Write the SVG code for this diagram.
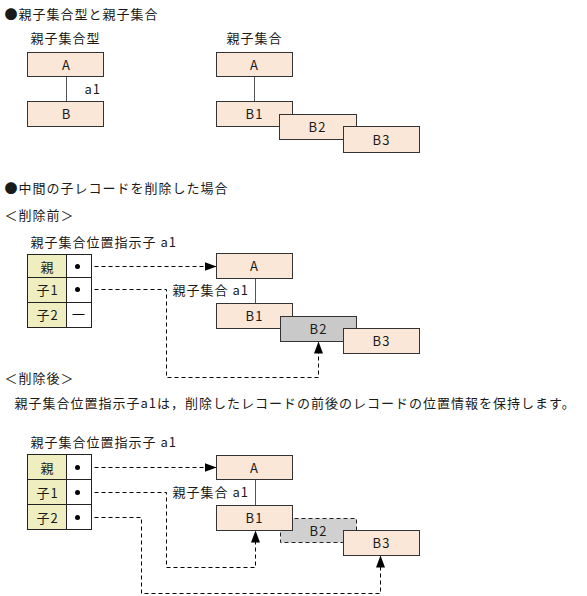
<svg xmlns="http://www.w3.org/2000/svg" width="587" height="596" viewBox="0 0 587 596">
<defs>
<style>
text{font-family:"Noto Sans CJK JP","Noto Sans",sans-serif;font-size:13px;letter-spacing:1px;fill:#1a1a1a}
.c{text-anchor:middle}
.box{fill:#fae7d7;stroke:#333;stroke-width:1}
.gray{fill:#c9c9c9;stroke:#333;stroke-width:1}
.gdash{fill:#d0d0d0;stroke:#222;stroke-width:1;stroke-dasharray:4 3}
.lbl{fill:#eeeec0;stroke:#222;stroke-width:1}
.val{fill:#fff;stroke:#222;stroke-width:1}
.link{stroke:#555;stroke-width:1;fill:none}
.sol{stroke:#000;stroke-width:1;fill:none}
.arr{stroke:#000;stroke-width:1;fill:none;stroke-dasharray:4 3;marker-end:url(#ah)}
</style>
<marker id="ah" markerUnits="userSpaceOnUse" markerWidth="13" markerHeight="9" refX="12" refY="4.5" orient="auto">
<path d="M0,0 L12,4.5 L0,9 z" fill="#000"/>
</marker>
</defs>
<g transform="translate(0.5,0.5)">
<text x="4" y="18">●親子集合型と親子集合</text>
<text x="30" y="42">親子集合型</text>
<text x="226" y="42">親子集合</text>

<g id="connectors">
<line class="link" x1="66" y1="76" x2="66" y2="101"/>
<line class="link" x1="254" y1="76" x2="254" y2="101"/>
<line class="link" x1="255" y1="278" x2="255" y2="303"/>
<line class="link" x1="255" y1="479" x2="255" y2="505"/>
<line class="sol" x1="77" y1="266" x2="91" y2="266"/>
<line class="arr" x1="94" y1="266" x2="216" y2="266"/>
<line class="sol" x1="77" y1="289" x2="91" y2="289"/>
<path class="arr" d="M94,289 H166 V377 H318 V341"/>
<line class="sol" x1="77" y1="467" x2="91" y2="467"/>
<line class="arr" x1="94" y1="467" x2="216" y2="467"/>
<line class="sol" x1="77" y1="492" x2="91" y2="492"/>
<path class="arr" d="M94,492 H166 V567 H255 V530"/>
<line class="sol" x1="77" y1="517" x2="91" y2="517"/>
<path class="arr" d="M94,517 H141 V593 H380 V555"/>
</g>

<text x="84" y="93">a1</text>

<g id="type-A"><rect class="box" x="27" y="52" width="76" height="24"/><text class="c" x="66" y="69">A</text></g>
<g id="type-B"><rect class="box" x="27" y="101" width="76" height="25"/><text class="c" x="66" y="118">B</text></g>

<g id="set-A"><rect class="box" x="216" y="52" width="76" height="24"/><text class="c" x="254" y="69">A</text></g>
<g id="set-B1"><rect class="box" x="216" y="101" width="76" height="25"/><text class="c" x="254" y="118">B1</text></g>
<g id="set-B2"><rect class="box" x="279" y="114" width="77" height="25"/><text class="c" x="317" y="131">B2</text></g>
<g id="set-B3"><rect class="box" x="343" y="126" width="76" height="26"/><text class="c" x="381" y="144">B3</text></g>

<text x="4" y="192">●中間の子レコードを削除した場合</text>
<text x="4" y="219">＜削除前＞</text>
<text x="30" y="246">親子集合位置指示子 a1</text>

<g id="ptr-before">
<rect class="lbl" x="27" y="254" width="39" height="23"/><rect class="val" x="66" y="254" width="25" height="23"/>
<rect class="lbl" x="27" y="277" width="39" height="25"/><rect class="val" x="66" y="277" width="25" height="25"/>
<rect class="lbl" x="27" y="302" width="39" height="25"/><rect class="val" x="66" y="302" width="25" height="25"/>
<text class="c" x="47" y="271">親</text>
<text class="c" x="47" y="294">子1</text>
<text class="c" x="47" y="319">子2</text>
<circle cx="77" cy="266" r="2.5" fill="#000"/>
<circle cx="77" cy="289" r="2.5" fill="#000"/>
<line x1="72" y1="314" x2="84" y2="314" stroke="#000" stroke-width="1"/>
</g>

<text x="172" y="294">親子集合 a1</text>
<g id="before-A"><rect class="box" x="216" y="253" width="76" height="25"/><text class="c" x="254" y="270">A</text></g>
<g id="before-B1"><rect class="box" x="216" y="303" width="76" height="25"/><text class="c" x="254" y="320">B1</text></g>
<g id="before-B2"><rect class="gray" x="280" y="316" width="76" height="25"/><text class="c" x="318" y="333">B2</text></g>
<g id="before-B3"><rect class="box" x="343" y="328" width="76" height="25"/><text class="c" x="381" y="345">B3</text></g>

<text x="4" y="382">＜削除後＞</text>
<text x="14" y="407">親子集合位置指示子a1は，削除したレコードの前後のレコードの位置情報を保持します。</text>
<text x="30" y="446">親子集合位置指示子 a1</text>

<g id="ptr-after">
<rect class="lbl" x="27" y="454" width="39" height="25"/><rect class="val" x="66" y="454" width="25" height="25"/>
<rect class="lbl" x="27" y="479" width="39" height="25"/><rect class="val" x="66" y="479" width="25" height="25"/>
<rect class="lbl" x="27" y="504" width="39" height="25"/><rect class="val" x="66" y="504" width="25" height="25"/>
<text class="c" x="47" y="472">親</text>
<text class="c" x="47" y="497">子1</text>
<text class="c" x="47" y="522">子2</text>
<circle cx="77" cy="467" r="2.5" fill="#000"/>
<circle cx="77" cy="492" r="2.5" fill="#000"/>
<circle cx="77" cy="517" r="2.5" fill="#000"/>
</g>

<text x="172" y="496">親子集合 a1</text>
<g id="after-A"><rect class="box" x="216" y="455" width="76" height="24"/><text class="c" x="254" y="472">A</text></g>
<g id="after-B2"><rect class="gdash" x="280" y="518" width="76" height="24"/><text class="c" x="318" y="535">B2</text></g>
<g id="after-B1"><rect class="box" x="216" y="505" width="76" height="25"/><text class="c" x="254" y="522">B1</text></g>
<g id="after-B3"><rect class="box" x="343" y="530" width="76" height="25"/><text class="c" x="381" y="547">B3</text></g>
</g>
</svg>
